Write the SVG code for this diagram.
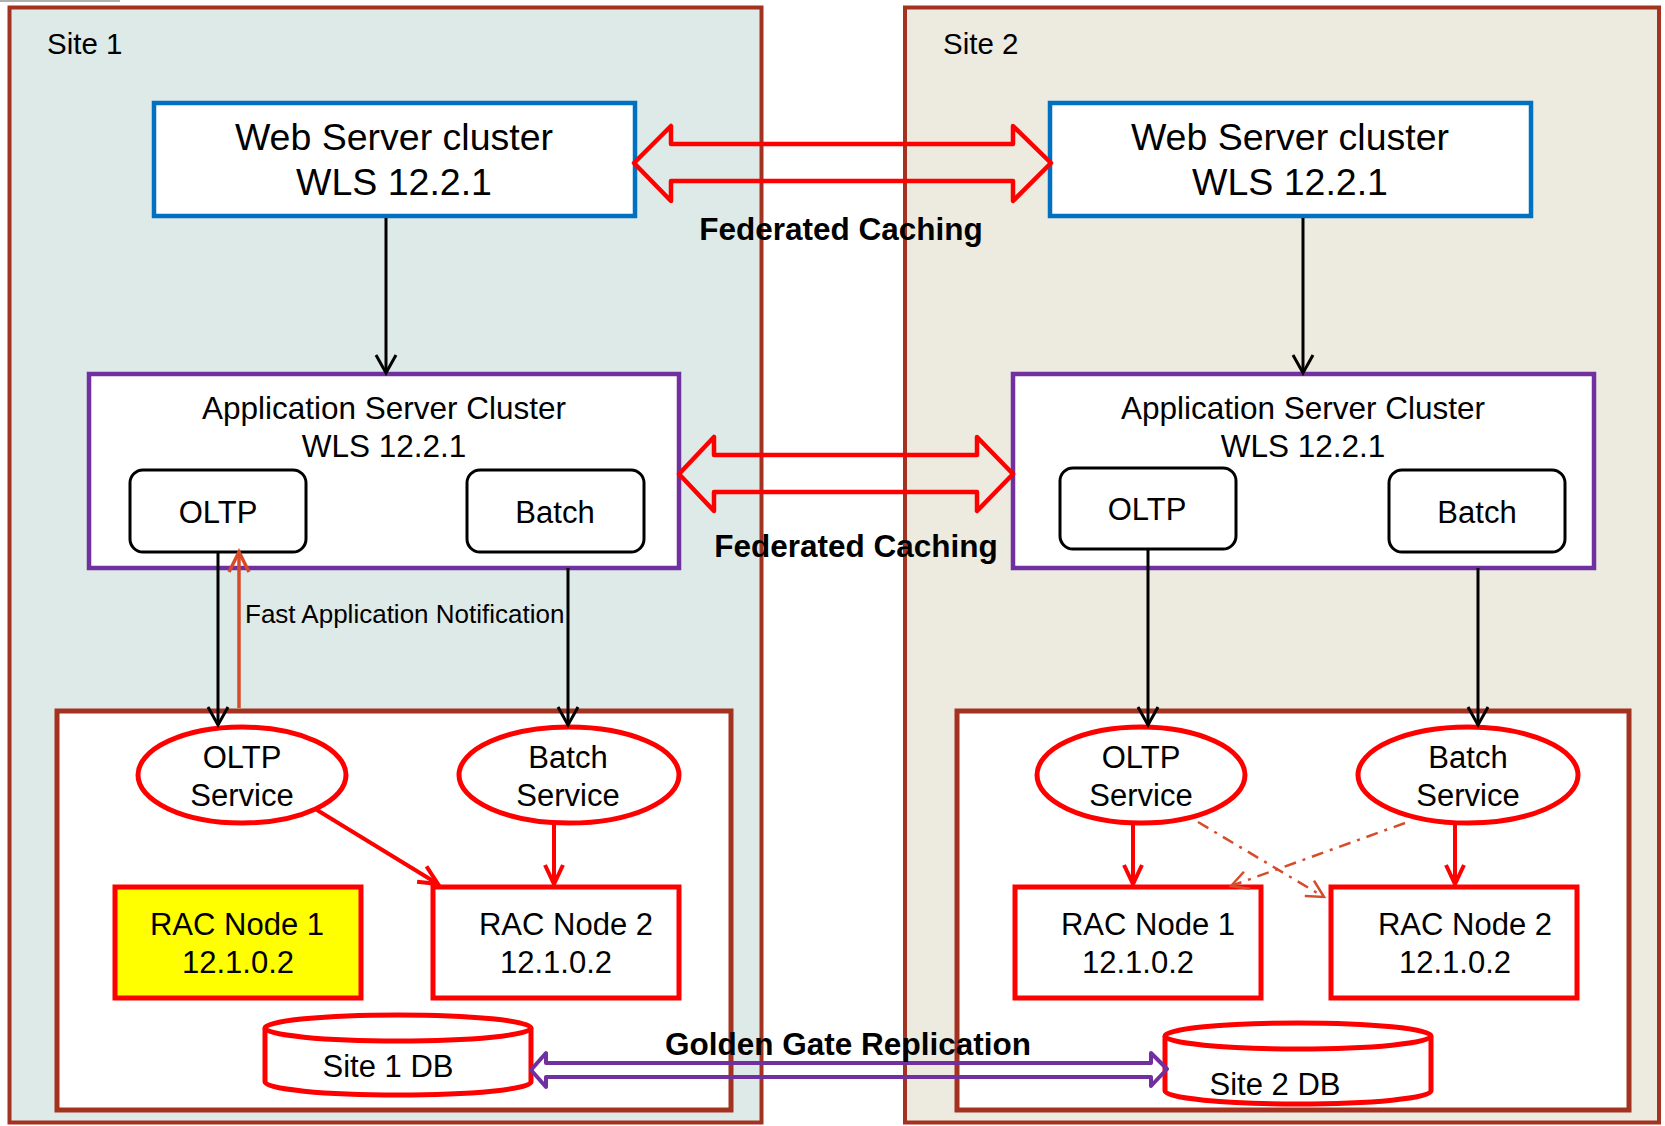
<svg xmlns="http://www.w3.org/2000/svg" width="1665" height="1126" viewBox="0 0 1665 1126">
<style>
text{font-family:"Liberation Sans",Arial,sans-serif;fill:#000}
.site{stroke:#A33220;stroke-width:4}
.cont{fill:#fff;stroke:#A33220;stroke-width:5}
.web{fill:#fff;stroke:#0070C0;stroke-width:4.5}
.app{fill:#fff;stroke:#7030A0;stroke-width:4.5}
.svc{fill:#fff;stroke:#000;stroke-width:3}
.ell{fill:#fff;stroke:#FF0000;stroke-width:5}
.rac{fill:#fff;stroke:#FF0000;stroke-width:5}
.t37{font-size:37.5px;text-anchor:middle}
.t31{font-size:31px;text-anchor:middle}
.t315{font-size:31.5px;text-anchor:middle}
.b31{font-size:31.5px;font-weight:bold;text-anchor:middle}
.blk{stroke:#000;stroke-width:3;fill:none}
.red{stroke:#FF0000;stroke-width:4;fill:none}
.fan{stroke:#D84B2A;stroke-width:3.5;fill:none}
.dd{stroke:#D84B2A;stroke-width:2.5;fill:none;stroke-dasharray:12 7 3 7}
.dbl{fill:none;stroke:#FF0000;stroke-width:4.5;stroke-linejoin:round}
.gg{fill:none;stroke:#7030A0;stroke-width:4;stroke-linejoin:round}
</style>
<defs>
<marker id="ahB" viewBox="-25 -15 30 30" markerWidth="30" markerHeight="30" refX="0" refY="0" markerUnits="userSpaceOnUse" orient="auto"><path d="M-18,-10 L0,0 L-18,10" fill="none" stroke="#000" stroke-width="3"/></marker>
<marker id="ahR" viewBox="-25 -15 30 30" markerWidth="30" markerHeight="30" refX="0" refY="0" markerUnits="userSpaceOnUse" orient="auto"><path d="M-19,-9 L0,0 L-19,9" fill="none" stroke="#FF0000" stroke-width="4"/></marker>
<marker id="ahO" viewBox="-25 -15 30 30" markerWidth="30" markerHeight="30" refX="0" refY="0" markerUnits="userSpaceOnUse" orient="auto"><path d="M-20,-10 L0,0 L-20,10" fill="none" stroke="#D84B2A" stroke-width="3.5"/></marker>
<marker id="ahD" viewBox="-25 -15 30 30" markerWidth="30" markerHeight="30" refX="0" refY="0" markerUnits="userSpaceOnUse" orient="auto"><path d="M-17,-9 L0,0 L-17,9" fill="none" stroke="#D84B2A" stroke-width="2.5"/></marker>
</defs>
<rect x="0" y="0" width="1665" height="1126" fill="#fff"/>
<rect x="0" y="0" width="120" height="2" fill="#B0B0B0"/>

<g id="site1">
<rect class="site" x="9.5" y="7.5" width="752" height="1115" fill="#DEEAE7"/>
<text x="47" y="54" style="font-size:29.5px">Site 1</text>
</g>
<g id="site2">
<rect class="site" x="905" y="7.5" width="754" height="1115" fill="#EDEAE0"/>
<text x="943" y="54" style="font-size:29.5px">Site 2</text>
</g>

<g id="web1">
<rect class="web" x="154" y="103" width="481" height="113"/>
<text class="t37" x="394" y="150">Web Server cluster</text>
<text class="t37" x="394" y="195">WLS 12.2.1</text>
</g>
<g id="web2">
<rect class="web" x="1050" y="103" width="481" height="113"/>
<text class="t37" x="1290" y="150">Web Server cluster</text>
<text class="t37" x="1290" y="195">WLS 12.2.1</text>
</g>

<g id="app1">
<rect class="app" x="89" y="374" width="590" height="194"/>
<text class="t315" x="384" y="419">Application Server Cluster</text>
<text class="t315" x="384" y="457">WLS 12.2.1</text>
</g>
<g id="app1-oltp">
<rect class="svc" x="130" y="470" width="176" height="82" rx="13"/>
<text class="t31" x="218" y="523">OLTP</text>
</g>
<g id="app1-batch">
<rect class="svc" x="467" y="470" width="177" height="82" rx="13"/>
<text class="t31" x="555" y="523">Batch</text>
</g>
<g id="app2">
<rect class="app" x="1013" y="374" width="581" height="194"/>
<text class="t315" x="1303" y="419">Application Server Cluster</text>
<text class="t315" x="1303" y="457">WLS 12.2.1</text>
</g>
<g id="app2-oltp">
<rect class="svc" x="1060" y="468" width="176" height="81" rx="13"/>
<text class="t31" x="1147" y="520">OLTP</text>
</g>
<g id="app2-batch">
<rect class="svc" x="1389" y="470" width="176" height="82" rx="13"/>
<text class="t31" x="1477" y="523">Batch</text>
</g>

<g id="db1-container"><rect class="cont" x="57" y="711" width="674" height="399"/></g>
<g id="db2-container"><rect class="cont" x="957" y="711" width="672" height="399"/></g>

<g id="svc1-oltp">
<ellipse class="ell" cx="242" cy="775" rx="104" ry="48"/>
<text class="t31" x="242" y="768">OLTP</text>
<text class="t31" x="242" y="806">Service</text>
</g>
<g id="svc1-batch">
<ellipse class="ell" cx="569" cy="775" rx="110" ry="48"/>
<text class="t31" x="568" y="768">Batch</text>
<text class="t31" x="568" y="806">Service</text>
</g>
<g id="svc2-oltp">
<ellipse class="ell" cx="1141" cy="775" rx="104" ry="48"/>
<text class="t31" x="1141" y="768">OLTP</text>
<text class="t31" x="1141" y="806">Service</text>
</g>
<g id="svc2-batch">
<ellipse class="ell" cx="1468" cy="775" rx="110" ry="48"/>
<text class="t31" x="1468" y="768">Batch</text>
<text class="t31" x="1468" y="806">Service</text>
</g>

<g id="rac1-node1">
<rect class="rac" x="115" y="887" width="246" height="111" style="fill:#FFFF00"/>
<text class="t31" x="237" y="935">RAC Node 1</text>
<text class="t31" x="238" y="973">12.1.0.2</text>
</g>
<g id="rac1-node2">
<rect class="rac" x="433" y="887" width="246" height="111"/>
<text class="t31" x="566" y="935">RAC Node 2</text>
<text class="t31" x="556" y="973">12.1.0.2</text>
</g>
<g id="rac2-node1">
<rect class="rac" x="1015" y="887" width="246" height="111"/>
<text class="t31" x="1148" y="935">RAC Node 1</text>
<text class="t31" x="1138" y="973">12.1.0.2</text>
</g>
<g id="rac2-node2">
<rect class="rac" x="1331" y="887" width="246" height="111"/>
<text class="t31" x="1465" y="935">RAC Node 2</text>
<text class="t31" x="1455" y="973">12.1.0.2</text>
</g>

<g id="db1">
<path class="rac" d="M265,1028 L265,1082 A133,13 0 0 0 531,1082 L531,1028"/>
<ellipse class="rac" cx="398" cy="1028" rx="133" ry="13"/>
<text class="t31" x="388" y="1077">Site 1 DB</text>
</g>
<g id="db2">
<path class="rac" d="M1165,1036 L1165,1091 A133,13 0 0 0 1431,1091 L1431,1036"/>
<ellipse class="rac" cx="1298" cy="1036" rx="133" ry="13"/>
<text class="t31" x="1275" y="1095">Site 2 DB</text>
</g>

<g id="connectors">
<polygon class="dbl" points="634,163 671,126 671,144 1013,144 1013,126 1051,163 1013,201 1013,181 671,181 671,201"/>
<polygon class="dbl" points="679,474 714,437 714,455 977,455 977,437 1013,474 977,511 977,492 714,492 714,511"/>
<polygon class="gg" points="531,1070 546,1053 546,1063 1151,1063 1151,1053 1167,1069 1151,1086 1151,1077 546,1077 546,1087"/>
<line class="blk" x1="386" y1="218" x2="386" y2="373" marker-end="url(#ahB)"/>
<line class="blk" x1="1303" y1="218" x2="1303" y2="373" marker-end="url(#ahB)"/>
<line class="blk" x1="218" y1="552" x2="218" y2="725" marker-end="url(#ahB)"/>
<line class="fan" x1="239" y1="708" x2="239" y2="552" marker-end="url(#ahO)"/>
<line class="blk" x1="568" y1="568" x2="568" y2="725" marker-end="url(#ahB)"/>
<line class="blk" x1="1148" y1="550" x2="1148" y2="725" marker-end="url(#ahB)"/>
<line class="blk" x1="1478" y1="568" x2="1478" y2="725" marker-end="url(#ahB)"/>
<line class="red" x1="317" y1="810" x2="438" y2="884" marker-end="url(#ahR)"/>
<line class="red" x1="554" y1="823" x2="554" y2="884" marker-end="url(#ahR)"/>
<line class="red" x1="1133" y1="823" x2="1133" y2="884" marker-end="url(#ahR)"/>
<line class="red" x1="1455" y1="823" x2="1455" y2="884" marker-end="url(#ahR)"/>
<line class="dd" x1="1198" y1="822" x2="1324" y2="897" marker-end="url(#ahD)"/>
<line class="dd" x1="1405" y1="823" x2="1231" y2="886" marker-end="url(#ahD)"/>
<text class="b31" x="841" y="240">Federated Caching</text>
<text class="b31" x="856" y="557">Federated Caching</text>
<text class="b31" x="848" y="1055">Golden Gate Replication</text>
<text x="245" y="623" style="font-size:26px">Fast Application Notification</text>
</g>
</svg>
